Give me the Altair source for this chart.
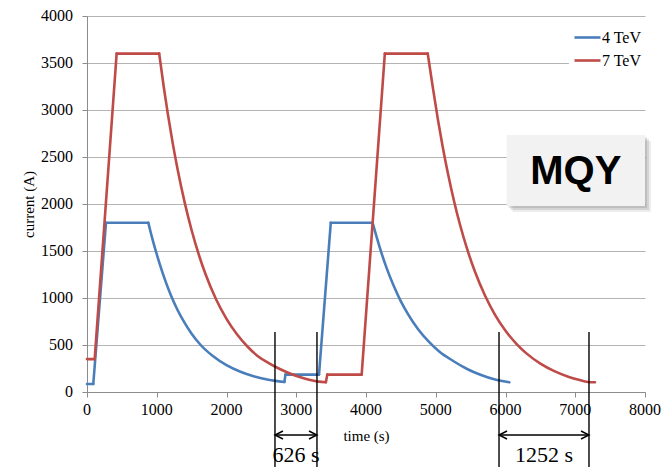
import altair as alt
import pandas as pd

# ---- data ----
t_4tev = [0, 90, 272, 879, 930, 990, 1050, 1120, 1210, 1300, 1400, 1500, 1630, 1800, 2000,
          2200, 2400, 2600, 2700, 2830, 2845, 3326, 3495, 4095, 4150, 4200, 4300, 4400, 4500,
          4600, 4750, 4900, 5050, 5250, 5450, 5650, 5850, 5950, 6055]
i_4tev = [85, 85, 1800, 1800, 1650, 1490, 1345, 1190, 1015, 870, 735, 620, 500, 385, 285,
          215, 165, 130, 118, 106, 185, 185, 1800, 1800, 1655, 1530, 1310, 1125, 965,
          832, 665, 535, 430, 330, 245, 180, 132, 116, 103]
corners_4tev = [0, 1, 2, 3, 19, 20, 21, 22, 23, 38]

t_7tev = [0, 110, 425, 1035, 1100, 1160, 1230, 1300, 1400, 1500, 1600, 1700, 1850, 2000,
          2150, 2300, 2450, 2600, 2750, 2900, 3050, 3200, 3320, 3425, 3445, 3938, 4270, 4885,
          4960, 5030, 5100, 5180, 5266, 5350, 5444, 5560, 5706, 5850, 6000, 6160, 6300, 6500,
          6700, 6900, 7050, 7180, 7283]
i_7tev = [350, 350, 3600, 3600, 3247, 2953, 2642, 2364, 2017, 1721, 1468, 1252, 986, 778,
          614, 484, 381, 310, 250, 200, 160, 128, 110, 104, 185, 185, 3600, 3600,
          3232, 2903, 2606, 2305, 2019, 1774, 1535, 1284, 1026, 821, 652, 510, 411, 302,
          222, 163, 130, 106, 103]
corners_7tev = [0, 1, 2, 3, 23, 24, 25, 26, 27, 46]

series_names = ["4 TeV", "7 TeV"]
series_colors = ["#4A7EBB", "#BE4B48"]

ann_start = [2695, 5907]
ann_end = [3297, 7197]
ann_label = ["626 s", "1252 s"]

box_label = "MQY"
box_x = [6015, 8000]
box_y = [1980, 2735]

x_ticks = list(range(0, 8001, 1000))
y_ticks = list(range(0, 4001, 500))

# ---- tables: each series split into segments between corners ----
rows = []
for name, ts, vs, cs in [(series_names[0], t_4tev, i_4tev, corners_4tev),
                         (series_names[1], t_7tev, i_7tev, corners_7tev)]:
    for s in range(len(cs) - 1):
        for k in range(cs[s], cs[s + 1] + 1):
            rows.append({"t": ts[k], "I": vs[k], "series": name,
                         "seg": f"{name}-{s}", "k": k})
df = pd.DataFrame(rows)

ann = pd.DataFrame({"a": ann_start, "b": ann_end, "label": ann_label,
                    "mid": [(a + b) / 2 for a, b in zip(ann_start, ann_end)]})
ann_v = pd.DataFrame({"x": ann_start + ann_end})
box = pd.DataFrame({"x": [box_x[0]], "x2": [box_x[1]], "y": [box_y[0]], "y2": [box_y[1]],
                    "label": [box_label], "xm": [(box_x[0] + box_x[1]) / 2],
                    "ym": [(box_y[0] + box_y[1]) / 2]})
xt = pd.DataFrame({"v": x_ticks})
yt = pd.DataFrame({"v": y_ticks})

serif = "Liberation Serif"
xs = alt.Scale(domain=[0, 8000], nice=False)
ys = alt.Scale(domain=[0, 4000], nice=False)

x_axis = alt.Axis(values=x_ticks, title="time (s)", grid=False, labels=False,
                  tickSize=5, titlePadding=31,
                  titleFont=serif, titleFontSize=15, titleFontWeight="normal", titleColor="#000",
                  domainColor="#8c8c8c", tickColor="#8c8c8c")
y_axis = alt.Axis(values=y_ticks, title="current (A)", grid=True, labels=False,
                  tickSize=5, titlePadding=45,
                  titleFont=serif, titleFontSize=15, titleFontWeight="normal", titleColor="#000",
                  domainColor="#8c8c8c", tickColor="#8c8c8c", gridColor="#b4b4b4", gridWidth=1.2)

X = lambda f: alt.X(f, scale=xs, axis=x_axis)
Y = lambda f: alt.Y(f, scale=ys, axis=y_axis)

lines = alt.Chart(df).mark_line(strokeWidth=2.6, clip=False, interpolate="monotone",
                                strokeCap="round", strokeJoin="round").encode(
    x=X("t:Q"),
    y=Y("I:Q"),
    color=alt.Color("series:N", scale=alt.Scale(domain=series_names, range=series_colors),
                    legend=alt.Legend(orient="none", legendX=482, legendY=3, title=None,
                                      symbolType="stroke", symbolSize=676, symbolStrokeWidth=2.6,
                                      labelFont=serif, labelFontSize=16, labelColor="#000",
                                      rowPadding=0, labelOffset=0, fillColor="white", padding=4)),
    detail="seg:N",
    order="k:Q",
)

# tick labels as text marks placed by the scales
x_labels = alt.Chart(xt).mark_text(font=serif, fontSize=16, color="#000", baseline="middle",
                                   align="center").encode(
    x=X("v:Q"), y=alt.value(394), text=alt.Text("v:Q", format="d"))
y_labels = alt.Chart(yt).mark_text(font=serif, fontSize=16, color="#000", baseline="middle",
                                   align="right").encode(
    x=alt.value(-14), y=Y("v:Q"), text=alt.Text("v:Q", format="d"))

shadow_layers = []
for off, op in [(2, 0.10), (4, 0.10), (6, 0.07)]:
    shadow_layers.append(
        alt.Chart(box).mark_rect(color="#000", opacity=op, xOffset=off, x2Offset=off,
                                 yOffset=off, y2Offset=off).encode(
            x=X("x:Q"), x2="x2:Q", y=Y("y:Q"), y2="y2:Q"))

box_rect = alt.Chart(box).mark_rect(color="#f2f2f2").encode(
    x=X("x:Q"), x2="x2:Q", y=Y("y:Q"), y2="y2:Q")
box_text = alt.Chart(box).mark_text(font="Liberation Sans", fontWeight="bold", fontSize=40,
                                    color="#000", baseline="middle", align="center", dy=2).encode(
    x=X("xm:Q"), y=Y("ym:Q"), text="label:N")

vlines = alt.Chart(ann_v).mark_rule(color="#000", strokeWidth=1.4).encode(
    x=X("x:Q"), y=alt.value(316), y2=alt.value(451))
arrows = alt.Chart(ann).mark_rule(color="#000", strokeWidth=1.4).encode(
    x=X("a:Q"), x2="b:Q", y=alt.value(419))
head_l = alt.Chart(ann).mark_point(shape="M2,-1L0,0L2,1", filled=False, size=64, color="#000",
                                   strokeWidth=1.4, opacity=1).encode(
    x=X("a:Q"), y=alt.value(419))
head_r = alt.Chart(ann).mark_point(shape="M-2,-1L0,0L-2,1", filled=False, size=64, color="#000",
                                   strokeWidth=1.4, opacity=1).encode(
    x=X("b:Q"), y=alt.value(419))
ann_text = alt.Chart(ann).mark_text(font=serif, fontSize=22, color="#000", baseline="alphabetic",
                                    align="center").encode(
    x=X("mid:Q"), y=alt.value(446), text="label:N")

chart = alt.layer(lines, x_labels, y_labels, *shadow_layers, box_rect, box_text, vlines, arrows,
                  head_l, head_r, ann_text).properties(
    width=558, height=376,
    autosize=alt.AutoSizeParams(type="none"),
    padding={"left": 87, "top": 16, "right": 19, "bottom": 75},
    background="white",
).configure_view(stroke=None)

chart.save("out.html", embed_options={"renderer": "svg", "actions": False})
